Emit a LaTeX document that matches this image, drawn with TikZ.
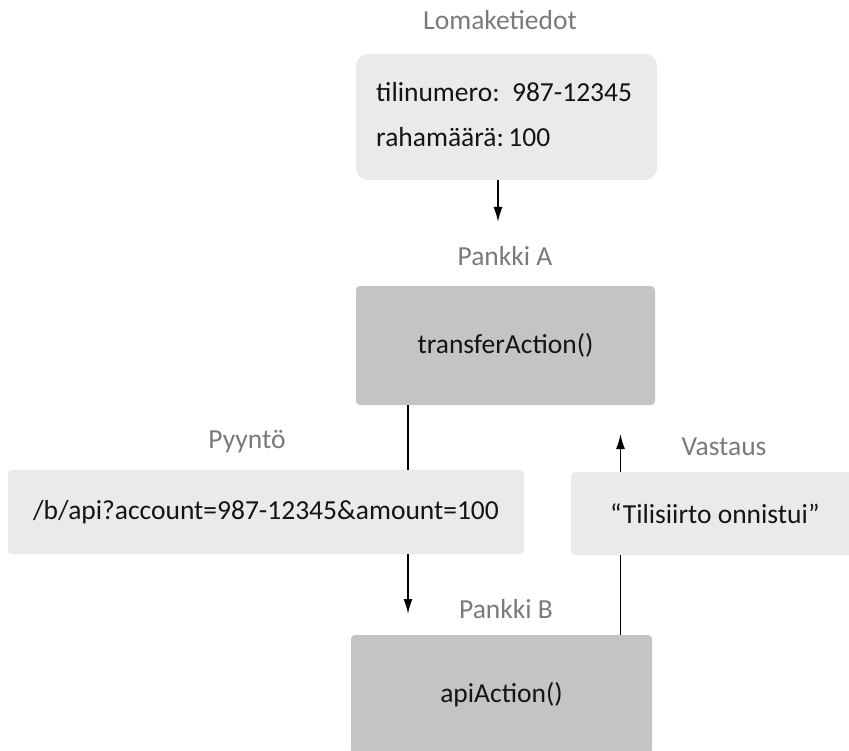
\documentclass[tikz,border=0pt]{standalone}
\usepackage{fontspec}
\setmainfont{Carlito}
\usetikzlibrary{arrows.meta}
\definecolor{lightbox}{HTML}{EAEAEA}
\definecolor{darkbox}{HTML}{C4C4C4}
\definecolor{labelgray}{HTML}{7A7A7A}
\definecolor{bodytext}{HTML}{141414}
\tikzset{
  txt/.style={font=\fontsize{27.5}{32}\selectfont},
  lbl/.style={txt, text=labelgray, anchor=base, inner sep=0pt},
  lightrect/.style={fill=lightbox, rounded corners=4pt, draw=none, inner sep=0pt, text=bodytext, txt},
  darkrect/.style={fill=darkbox, rounded corners=4pt, draw=none, inner sep=0pt, text=bodytext, txt},
  conn/.style={line width=1.6pt, draw=black},
  arr/.style={conn, -{Latex[length=15pt,width=9pt]}}
}
\begin{document}
\begin{tikzpicture}[x=1pt,y=-1pt]
\useasboundingbox (0,0) rectangle (849,751);
% labels
\node[lbl] (lform) at (500,30) {Lomaketiedot};
\node[lbl] (lA) at (505,266) {Pankki A};
\node[lbl] (lreq) at (247,448) {Pyyntö};
\node[lbl] (lresp) at (724,455) {Vastaus};
\node[lbl] (lB) at (506,618) {Pankki B};
% boxes
\node[lightrect, rounded corners=12pt, minimum width=301pt, minimum height=126pt] (form) at (506.5,117) {};
\node[txt, text=bodytext, anchor=base west, inner sep=0pt] (f1) at (376,102) {tilinumero:\ \ 987-12345};
\node[txt, text=bodytext, anchor=base west, inner sep=0pt] (f2) at (376,147) {rahamäärä:\,100};
\node[darkrect, minimum width=299pt, minimum height=119pt] (tA) at (505.5,345.5) {transferAction()};
\node[lightrect, minimum width=516pt, minimum height=84pt] (req) at (266,512) {/b/api?account=987-12345\&amount=100};
\node[lightrect, minimum width=288pt, minimum height=83pt] (resp) at (715,513.5) {“Tilisiirto onnistui”};
\node[darkrect, minimum width=301pt, minimum height=119pt] (apiB) at (501.5,694.5) {apiAction()};
% connector coordinates
\coordinate (xf) at (498,0);
\coordinate (xl) at (408,0);
\coordinate (xr) at (620.5,0);
\coordinate (tipA) at (498,222);
\coordinate (tipB) at (408,614);
\coordinate (tipR) at (620.5,434);
% connectors
\draw[arr] (form.south -| xf) -- (tipA);
\draw[conn] (tA.south -| xl) -- (req.north -| xl);
\draw[arr] (req.south -| xl) -- (tipB);
\draw[conn] (apiB.north -| xr) -- (resp.south -| xr);
\draw[arr] (resp.north -| xr) -- (tipR);
\end{tikzpicture}
\end{document}
